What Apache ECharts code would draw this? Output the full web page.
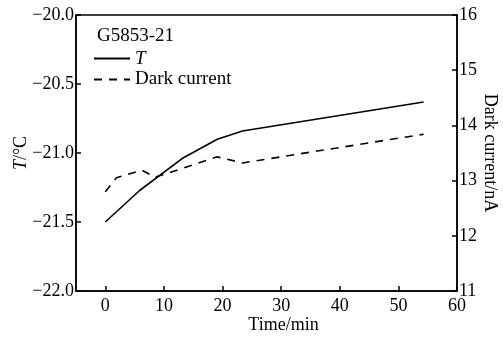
<!DOCTYPE html>
<html>
<head>
<meta charset="utf-8">
<script src="https://cdn.jsdelivr.net/npm/echarts@6/dist/echarts.min.js"></script>
<style>
  html, body { margin: 0; padding: 0; background: #fff; }
  #chart { width: 503px; height: 341px; }
</style>
</head>
<body>
<div id="chart"></div>
<script>
// time in minutes
var timeT = [0, 5.9, 13.1, 19.1, 23.4, 54.3];
var tempT = [-21.50, -21.27, -21.04, -20.90, -20.84, -20.63];
var timeDark = [0, 1.9, 6.2, 8.5, 19.1, 23.4, 54.3];
var darkCurrent = [12.80, 13.05, 13.19, 13.06, 13.43, 13.32, 13.84];

var sampleName = 'G5853-21';
var serif = 'Liberation Serif';
var fs = 18;

function pairs(xs, ys) {
  return xs.map(function (x, i) { return [x, ys[i]]; });
}

function initChart(dom) {
  var myChart = echarts.init(dom),
    option = {
      animation: false,
      textStyle: { fontFamily: serif, color: '#000' },
      title: {
        text: sampleName,
        left: 92,
        top: 22,
        textStyle: { fontFamily: serif, fontSize: 19, fontWeight: 'normal', color: '#000' }
      },
      legend: {
        orient: 'vertical',
        left: 88,
        top: 44,
        itemWidth: 36,
        itemHeight: 12,
        itemGap: 2,
        itemStyle: { color: 'transparent', borderWidth: 0 },
        textStyle: {
          fontFamily: serif, fontSize: 19, color: '#000',
          rich: { i: { fontStyle: 'italic', fontFamily: serif, fontSize: 19 } }
        },
        formatter: function (name) {
          return name === 'T' ? '{i|T}' : name;
        },
        data: ['T', 'Dark current']
      },
      grid: {
        left: 76,
        right: 46,
        top: 15,
        bottom: 50,
        outerBoundsMode: 'none',
        show: true,
        borderColor: '#000',
        borderWidth: 1.5
      },
      xAxis: {
        type: 'value',
        min: -5,
        max: 60,
        splitNumber: 6,
        name: 'Time/min',
        nameLocation: 'middle',
        nameMoveOverlap: false,
        nameGap: 25,
        nameTextStyle: { fontFamily: serif, fontSize: fs, color: '#000', padding: [0, 0, 0, 34] },
        axisLine: { onZero: false, lineStyle: { color: '#000', width: 1.5 } },
        axisTick: { inside: true, length: 5, lineStyle: { color: '#000', width: 1.5 } },
        axisLabel: { showMinLabel: false, margin: 6, fontFamily: serif, fontSize: fs, color: '#000' },
        splitLine: { show: false }
      },
      yAxis: [{
        type: 'value',
        min: -22,
        max: -20,
        interval: 0.5,
        name: '{i|T}/°C',
        nameLocation: 'middle',
        nameMoveOverlap: false,
        nameRotate: 90,
        nameGap: 46,
        nameTextStyle: {
          fontFamily: serif, fontSize: fs, color: '#000',
          rich: { i: { fontStyle: 'italic', fontFamily: serif, fontSize: fs } }
        },
        axisLine: { onZero: false, lineStyle: { color: '#000', width: 1.5 } },
        axisTick: { inside: true, length: 5, lineStyle: { color: '#000', width: 1.5 } },
        axisLabel: {
          margin: 2, fontFamily: serif, fontSize: fs, color: '#000',
          formatter: function (v) { return v.toFixed(1).replace('-', '\u2212'); }
        },
        splitLine: { show: false }
      }, {
        type: 'value',
        min: 11,
        max: 16,
        interval: 1,
        position: 'right',
        name: 'Dark current/nA',
        nameLocation: 'middle',
        nameMoveOverlap: false,
        nameRotate: -90,
        nameGap: 24,
        nameTextStyle: { fontFamily: serif, fontSize: fs, color: '#000' },
        axisLine: { show: true, onZero: false, lineStyle: { color: '#000', width: 1.5 } },
        axisTick: { show: true, inside: true, length: 5, lineStyle: { color: '#000', width: 1.5 } },
        axisLabel: { margin: 2, fontFamily: serif, fontSize: fs, color: '#000' },
        splitLine: { show: false }
      }],
      series: [{
        name: 'T',
        type: 'line',
        yAxisIndex: 0,
        symbol: 'none',
        lineStyle: { color: '#000', width: 1.6, type: 'solid' },
        itemStyle: { color: '#000' },
        data: pairs(timeT, tempT)
      }, {
        name: 'Dark current',
        type: 'line',
        yAxisIndex: 1,
        symbol: 'none',
        lineStyle: { color: '#000', width: 1.6, type: [8, 7] },
        itemStyle: { color: '#000' },
        data: pairs(timeDark, darkCurrent)
      }]
    };
  myChart.setOption(option, true);
}

initChart(document.getElementById('chart'));
</script>
</body>
</html>
